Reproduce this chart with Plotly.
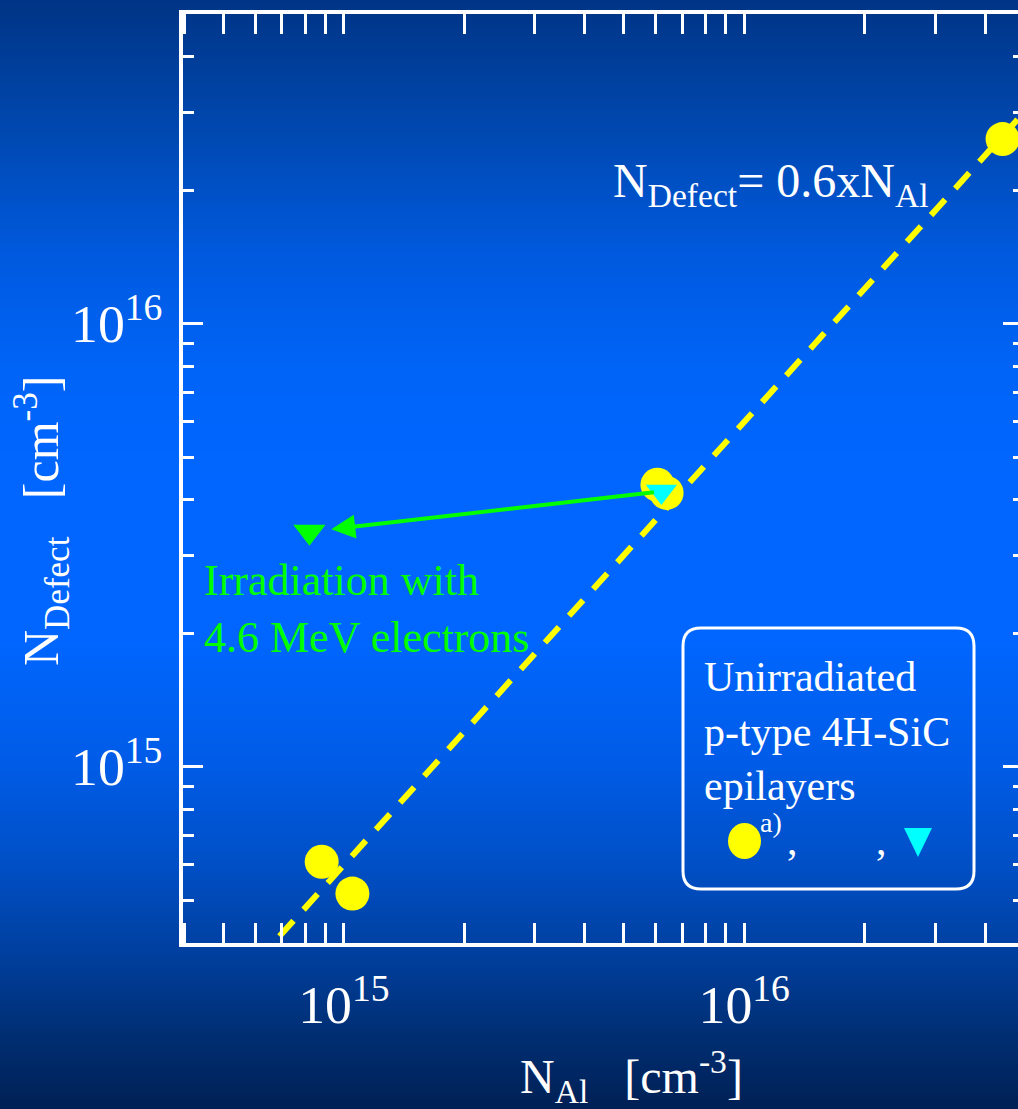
import math
import plotly.graph_objects as go

# ---------------- data ----------------
al_unirr = [8.8e14, 1.05e15, 6.07e15, 6.4e15, 4.42e16]       # N_Al [cm^-3], yellow circles
def_unirr = [6.1e14, 5.17e14, 4.33e15, 4.15e15, 2.61e16]      # N_Defect [cm^-3]
al_cyan = [6.21e15]                                          # cyan triangle
def_cyan = [4.18e15]
al_irr = [8.2e14]                                            # after 4.6 MeV electron irradiation
def_irr = [3.39e15]
fit_factor = 0.6                                             # N_Defect = 0.6 x N_Al
fit_al = [3e14, 1e17]
fit_def = [fit_factor * v for v in fit_al]

x_range = [14.598, 16.684]
y_range = [14.602, 16.699]

FONT = "Liberation Serif, Times New Roman, serif"
W, H = 1018, 1109
ML, MR, MT, MB = 183, 0, 14, 166
PW, PH = W - ML - MR, H - MT - MB


def px(x):
    return (x - ML) / PW


def py(y):
    return (H - MB - y) / PH


fig = go.Figure()

# dashed fit line
fig.add_trace(go.Scatter(x=fit_al, y=fit_def, mode="lines",
                         line=dict(color="#ffff00", width=6, dash="21px,15px"),
                         showlegend=False, hoverinfo="skip"))
# unirradiated circles
fig.add_trace(go.Scatter(x=al_unirr, y=def_unirr, mode="markers",
                         marker=dict(symbol="circle", size=34, color="#ffff00", line=dict(width=0)),
                         showlegend=False))
# cyan triangle
fig.add_trace(go.Scatter(x=al_cyan, y=def_cyan, mode="markers",
                         marker=dict(symbol="triangle-down", size=27, color="#00ffff", line=dict(width=0)),
                         showlegend=False))
# irradiated
fig.add_trace(go.Scatter(x=al_irr, y=def_irr, mode="markers",
                         marker=dict(symbol="triangle-down", size=28, color="#00ff00", line=dict(width=0)),
                         showlegend=False))
# empty trace for right-side tick axis
fig.add_trace(go.Scatter(x=[], y=[], yaxis="y2", showlegend=False, hoverinfo="skip"))

# ---------------- background gradient ----------------
stops = [(0, (0, 52, 133)), (130, (0, 72, 176)), (260, (0, 90, 224)), (370, (0, 100, 248)),
         (480, (0, 102, 255)), (640, (0, 102, 255)), (760, (0, 92, 232)), (870, (0, 78, 196)),
         (960, (0, 62, 155)), (1040, (0, 45, 112)), (1109, (0, 32, 85))]


def col_at(y):
    for (y0, c0), (y1, c1) in zip(stops[:-1], stops[1:]):
        if y0 <= y <= y1:
            t = (y - y0) / (y1 - y0)
            return "rgb(%d,%d,%d)" % tuple(round(a + (b - a) * t) for a, b in zip(c0, c1))
    return "rgb(%d,%d,%d)" % stops[-1][1]


shapes = []
step = 4
for y in range(0, H, step):
    shapes.append(dict(type="rect", xref="paper", yref="paper", layer="below",
                       x0=px(-2), x1=px(W + 2), y0=py(y + step + 1), y1=py(y),
                       fillcolor=col_at(y + step / 2), line=dict(width=0)))

# legend box (rounded)
bx0, bx1, by0, by1, r = 683, 974, 628, 889, 18
pts = [
    ("M", bx0 + r, by0), ("L", bx1 - r, by0), ("Q", bx1, by0, bx1, by0 + r),
    ("L", bx1, by1 - r), ("Q", bx1, by1, bx1 - r, by1), ("L", bx0 + r, by1),
    ("Q", bx0, by1, bx0, by1 - r), ("L", bx0, by0 + r), ("Q", bx0, by0, bx0 + r, by0),
]
path = ""
for p in pts:
    cmd = p[0]
    coords = p[1:]
    seg = []
    for i in range(0, len(coords), 2):
        seg.append("%.5f,%.5f" % (px(coords[i]), py(coords[i + 1])))
    path += cmd + " " + " ".join(seg) + " "
path += "Z"
shapes.append(dict(type="path", xref="paper", yref="paper", path=path,
                   line=dict(color="white", width=3), fillcolor="rgba(0,0,0,0)", layer="above"))
# legend symbols
shapes.append(dict(type="circle", xref="paper", yref="paper", x0=px(728), x1=px(761),
                   y0=py(859), y1=py(823), fillcolor="#ffff00", line=dict(width=0)))
tri = "M %.5f,%.5f L %.5f,%.5f L %.5f,%.5f Z" % (px(904), py(828), px(932), py(828), px(918), py(857))
shapes.append(dict(type="path", xref="paper", yref="paper", path=tri,
                   fillcolor="#00ffff", line=dict(width=0)))

# ---------------- annotations ----------------
NB = "\u00a0"
annotations = [
    dict(xref="paper", yref="paper", x=px(611), y=py(184), xanchor="left", yanchor="middle",
         text="N<sub>Defect</sub>= 0.6xN<sub>Al</sub>", showarrow=False,
         font=dict(family=FONT, size=48, color="white")),
    dict(xref="paper", yref="paper", x=px(202), y=py(609), xanchor="left", yanchor="middle",
         text="Irradiation with<br>4.6 MeV electrons", showarrow=False, align="left",
         font=dict(family=FONT, size=44, color="#00ff00")),
    dict(xref="paper", yref="paper", x=px(702), y=py(731), xanchor="left", yanchor="middle",
         text="Unirradiated<br>p-type 4H-SiC<br>epilayers", showarrow=False, align="left",
         font=dict(family=FONT, size=42, color="white")),
    dict(xref="paper", yref="paper", x=px(771), y=py(822), xanchor="center", yanchor="middle",
         text="a)", showarrow=False, font=dict(family=FONT, size=28, color="white")),
    dict(xref="paper", yref="paper", x=px(792), y=py(840), xanchor="center", yanchor="middle",
         text=",", showarrow=False, font=dict(family=FONT, size=42, color="white")),
    dict(xref="paper", yref="paper", x=px(881), y=py(840), xanchor="center", yanchor="middle",
         text=",", showarrow=False, font=dict(family=FONT, size=42, color="white")),
    # axis titles
    dict(xref="paper", yref="paper", x=px(41), y=py(521), xanchor="center", yanchor="middle",
         textangle=-90, text="N<sub>Defect</sub>" + NB * 3 + "[cm<sup>-3</sup>]", showarrow=False,
         font=dict(family=FONT, size=50, color="white")),
    dict(xref="paper", yref="paper", x=px(631), y=py(1076), xanchor="center", yanchor="middle",
         text="N<sub>Al</sub>" + NB * 3 + "[cm<sup>-3</sup>]", showarrow=False,
         font=dict(family=FONT, size=48, color="white")),
    # arrow from unirradiated to irradiated state
    dict(xref="x", yref="y", axref="x", ayref="y",
         x=math.log10(al_irr[0]), y=math.log10(def_irr[0]),
         ax=math.log10(al_cyan[0]), ay=math.log10(def_cyan[0]),
         text="", showarrow=True, arrowhead=2, arrowsize=1.2, arrowwidth=4,
         arrowcolor="#00ff00", standoff=22, startstandoff=6),
]

axis_common = dict(type="log", showgrid=False, zeroline=False, ticks="inside",
                   tickcolor="white", tickwidth=3, dtick=1, tick0=0,
                   exponentformat="power")

fig.update_layout(
    width=W, height=H, autosize=False,
    margin=dict(l=ML, r=MR, t=MT, b=MB, pad=0),
    paper_bgcolor="rgb(0,70,180)", plot_bgcolor="rgba(0,0,0,0)",
    showlegend=False,
    font=dict(family=FONT, color="white"),
    shapes=shapes, annotations=annotations,
    xaxis=dict(range=x_range, showline=True, linecolor="white", linewidth=4, mirror="allticks",
               ticklen=20, ticklabelstandoff=14,
               tickfont=dict(family=FONT, size=43, color="white"),
               minor=dict(ticks="inside", ticklen=11, tickwidth=3, tickcolor="white", showgrid=False),
               **axis_common),
    yaxis=dict(range=y_range, showline=True, linecolor="white", linewidth=4, mirror=False,
               ticklen=20, ticklabelstandoff=8,
               tickfont=dict(family=FONT, size=43, color="white"),
               minor=dict(ticks="inside", ticklen=11, tickwidth=3, tickcolor="white", showgrid=False),
               **axis_common),
    yaxis2=dict(range=y_range, overlaying="y", side="right", anchor="x", showline=False,
                showticklabels=False, ticklen=15,
                minor=dict(ticks="inside", ticklen=5, tickwidth=3, tickcolor="white", showgrid=False),
                **axis_common),
)

fig.write_html("out.html")
